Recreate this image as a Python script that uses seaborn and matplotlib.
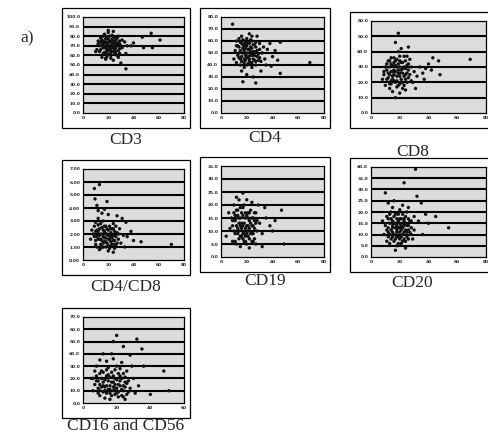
import matplotlib
matplotlib.use("Agg")
import matplotlib.pyplot as plt
import matplotlib.patches as mpatches
import numpy as np
import pandas as pd
import seaborn as sns

sns.set_theme(style="white")
plt.rcParams['font.family'] = ['DejaVu Sans']

# ---------------- data ----------------
cd3_points = [(14,78),(16,75),(18,80),(20,77),(22,74),(24,79),(26,76),(28,72),(15,70),(17,68),
              (19,72),(21,69),(23,71),(25,66),(27,73),(29,67),(13,64),(16,62),(19,65),(22,60),
              (25,63),(28,58),(30,70),(14,74),(17,82),(20,84),(23,81),(26,78),(29,75),(15,58),
              (18,56),(21,61),(24,55),(27,60),(16,68),(19,66),(22,63),(25,67),(12,72),(31,76),
              (33,74),(35,70),(11,66),(10,64),(34,62),(38,70),(40,73),(47,79),(48,68),(54,83),
              (55,68),(61,76),(34,46),(30,52),(20,86),(24,85),(18,57),(26,64),(22,70),(28,80)]
cd3_core = [(13,70),(15,76),(17,73),(19,78),(21,75),(23,77),(25,73),(27,70),(29,72),(14,66),
            (16,71),(18,69),(20,73),(22,67),(24,70),(26,68),(28,65),(17,63),(20,67),(23,64),
            (26,61),(19,59),(22,57),(16,80),(18,77),(21,80),(24,75),(27,78),(15,73),(20,70),
            (23,74),(25,70),(18,74),(21,65),(24,68),(19,62),(29,62),(31,68),(12,75),(26,72)]

cd4_points = [(12,60),(14,55),(16,58),(18,52),(20,56),(22,50),(24,54),(26,48),(28,52),(30,46),
              (13,48),(15,45),(17,50),(19,44),(21,47),(23,42),(25,45),(27,40),(14,62),(16,64),
              (18,60),(20,62),(22,58),(24,60),(26,57),(15,40),(18,38),(21,41),(24,38),(27,43),
              (11,52),(10,45),(12,42),(32,50),(34,45),(33,55),(36,53),(30,58),(9,74),(46,59),
              (69,42),(46,33),(17,26),(27,25),(39,39),(35,40),(40,47),(42,52),(31,35),(20,32),
              (25,30),(16,35),(28,64),(22,66),(38,58),(44,44),(19,48),(23,51),(17,54),(29,44)]
cd4_core = [(13,56),(15,52),(17,57),(19,54),(21,59),(23,55),(25,51),(27,55),(29,49),(14,50),
            (16,47),(18,45),(20,50),(22,45),(24,48),(26,44),(28,47),(15,59),(17,61),(19,58),
            (21,53),(23,61),(25,57),(18,42),(20,40),(22,43),(24,42),(26,51),(16,43),(20,46),
            (22,53),(18,56),(14,46),(24,64),(27,59),(30,53),(12,56),(31,43),(20,58),(23,48)]

cd8_points = [(10,30),(12,26),(14,32),(16,28),(18,24),(20,30),(22,26),(24,22),(26,28),(11,22),
              (13,19),(15,24),(17,20),(19,18),(21,22),(23,18),(25,20),(12,34),(14,36),(16,33),
              (18,35),(20,37),(22,33),(24,34),(9,27),(8,22),(27,25),(28,30),(30,27),(32,24),
              (19,40),(21,42),(17,46),(19,52),(26,43),(69,35),(47,34),(48,25),(37,22),(31,16),
              (17,10),(34,30),(36,26),(40,32),(43,36),(15,14),(20,13),(24,15),(13,16),(29,20),
              (22,29),(18,30),(16,21),(26,32),(20,26),(14,27),(38,29),(42,28),(10,18),(25,37)]
cd8_core = [(11,28),(13,30),(15,27),(17,31),(19,28),(21,33),(23,30),(25,26),(12,23),(14,21),
            (16,25),(18,21),(20,24),(22,20),(24,25),(26,23),(13,25),(15,31),(17,34),(19,32),
            (21,28),(23,24),(25,31),(14,19),(18,17),(20,19),(22,16),(16,36),(20,34),(23,37),
            (19,26),(21,20),(17,27),(15,22),(11,32),(27,35),(28,21),(24,29),(13,34),(9,25)]

cd4cd8_points = [(8,2.0),(10,1.5),(12,2.2),(14,1.2),(16,1.8),(18,1.0),(20,2.3),(22,1.4),(24,1.9),(26,1.1),
                 (28,1.6),(9,2.6),(11,1.0),(13,0.8),(15,2.5),(17,1.4),(19,2.0),(21,0.9),(23,2.4),(25,1.5),
                 (27,2.1),(10,2.9),(12,3.2),(14,2.8),(16,3.0),(18,2.6),(20,0.7),(22,1.8),(24,0.6),(30,1.3),
                 (32,1.9),(29,2.4),(6,1.6),(7,2.3),(9,5.5),(13,5.8),(9.5,4.7),(17,3.9),(27,3.4),(34,2.9),
                 (38,2.2),(46,1.4),(70,1.2),(35,1.8),(31,3.2),(11,4.2),(15,3.6),(20,3.5),(24,2.8),(13,1.6),
                 (18,1.7),(22,2.1),(16,1.3),(26,2.6),(19,4.5),(33,1.0),(40,1.5),(12,3.8),(25,1.2),(21,1.6)]
cd4cd8_core = [(9,1.8),(11,2.3),(13,1.9),(15,1.5),(17,2.2),(19,1.3),(21,1.9),(23,1.2),(25,2.2),(27,1.3),
               (10,1.2),(12,1.6),(14,2.0),(16,2.3),(18,2.0),(20,1.6),(22,2.4),(24,1.5),(26,1.8),(12,2.7),
               (14,1.6),(16,1.0),(18,1.4),(20,1.1),(22,1.1),(17,2.6),(19,2.4),(21,2.6),(23,1.7),(15,1.0),
               (11,1.8),(13,2.4),(25,0.9),(28,2.0),(10,2.2),(14,0.9),(17,1.7),(20,1.9),(24,2.4),(16,2.0)]

cd19_points = [(8,15),(10,10),(12,18),(14,7),(16,13),(18,9),(20,16),(22,11),(24,6),(26,14),
               (28,10),(9,6),(11,14),(13,11),(15,19),(17,16),(19,6),(21,12),(23,18),(25,9),
               (27,17),(10,20),(12,5),(14,15),(16,8),(18,20),(20,5),(22,14),(24,12),(26,7),
               (7,11),(6,17),(30,13),(32,9),(31,36),(17,24.6),(47,18),(49,5),(40,10),(32,4),
               (4,8),(14,22),(20,22),(24,21),(12,23),(35,15),(38,12),(29,20),(15,4),(22,3.5),
               (19,11),(13,9),(17,12),(25,15),(21,8),(11,16),(27,5),(34,19),(42,14),(9,12)]
cd19_core = [(9,14),(11,9),(13,16),(15,12),(17,7),(19,15),(21,17),(23,9),(25,12),(27,13),
             (10,17),(12,12),(14,10),(16,17),(18,13),(20,9),(22,7),(24,15),(26,11),(28,14),
             (11,6),(13,18),(15,8),(17,19),(19,17),(21,15),(23,13),(25,6),(12,15),(14,13),
             (16,11),(18,6),(20,12),(22,17),(24,9),(26,17),(15,15),(19,8),(21,10),(17,9)]

cd20_points = [(10,14),(12,9),(14,17),(16,7),(18,12),(20,15),(22,10),(24,18),(26,8),(28,13),
               (11,18),(13,6),(15,11),(17,19),(19,9),(21,6),(23,14),(25,11),(27,16),(12,13),
               (14,20),(16,15),(18,5),(20,11),(22,19),(24,7),(26,14),(9,10),(8,16),(30,12),
               (31,39),(23,33),(10,28.5),(32,27),(35,24),(54,13),(38,19),(24,4),(15,22),(20,21),
               (26,22),(12,24),(33,16),(36,10),(29,8),(17,3),(21,17),(19,13),(15,9),(23,8),
               (13,15),(25,20),(18,17),(28,10),(11,7),(40,15),(45,18),(16,25),(22,23),(30,18)]
cd20_core = [(11,12),(13,10),(15,14),(17,13),(19,16),(21,12),(23,17),(25,14),(27,11),(12,17),
             (14,12),(16,10),(18,14),(20,8),(22,13),(24,15),(26,12),(28,16),(13,19),(15,16),
             (17,8),(19,19),(21,14),(23,11),(25,9),(14,8),(16,18),(18,9),(20,17),(22,7),
             (24,12),(26,17),(12,11),(17,15),(20,13),(23,16),(19,6),(21,9),(15,13),(18,11)]

cd1656_points = [(6,10),(8,18),(10,6),(12,25),(14,14),(16,8),(18,22),(20,12),(22,28),(24,5),
                 (26,16),(7,26),(9,12),(11,20),(13,4),(15,29),(17,17),(19,7),(21,24),(23,11),
                 (25,21),(27,9),(8,30),(10,15),(12,9),(14,22),(16,3),(18,13),(20,30),(22,18),
                 (24,10),(26,26),(5,20),(6,20),(20,55),(32,52),(18,50),(35,44),(12,40),(48,26),
                 (51,10),(40,7),(28,39),(30,20),(33,14),(29,30),(14,34),(18,36),(23,33),(10,35),
                 (36,30),(25,3),(15,18),(19,27),(13,13),(21,5),(28,12),(31,8),(17,40),(24,46)]
cd1656_core = [(7,15),(9,8),(11,13),(13,19),(15,11),(17,25),(19,15),(21,9),(23,20),(25,13),
               (27,18),(8,22),(10,10),(12,17),(14,8),(16,21),(18,10),(20,19),(22,14),(24,24),
               (26,7),(9,18),(11,26),(13,10),(15,23),(17,6),(19,20),(21,15),(23,6),(25,17),
               (10,24),(12,14),(14,27),(16,14),(18,17),(20,8),(22,22),(24,14),(16,11),(19,12)]

cd3_yticks = [0, 10, 20, 30, 40, 50, 60, 70, 80, 90, 100]
cd4_yticks = [0, 10, 20, 30, 40, 50, 60, 70, 80]
cd8_yticks = [0, 10, 20, 30, 40, 50, 60]
cd4cd8_yticks = [0, 1, 2, 3, 4, 5, 6, 7]
cd19_yticks = [0, 5, 10, 15, 20, 25, 30, 35]
cd20_yticks = [0, 5, 10, 15, 20, 25, 30, 35, 40]
cd1656_yticks = [0, 10, 20, 30, 40, 50, 60, 70]
xticks_80 = [0, 20, 40, 60, 80]
xticks_60 = [0, 20, 40, 60]

# ---------------- layout ----------------
W, H = 488, 436
fig = plt.figure(figsize=(W / 100, H / 100), dpi=100)
fig.patch.set_facecolor("white")

panels = [
    ("CD3", cd3_points + cd3_core, cd3_yticks, "{:.1f}", xticks_80, (62, 8, 190, 128), 140),
    ("CD4", cd4_points + cd4_core, cd4_yticks, "{:.1f}", xticks_80, (200, 8, 330, 128), 138),
    ("CD8", cd8_points + cd8_core, cd8_yticks, "{:.1f}", xticks_80, (350, 12, 492, 128), 152),
    ("CD4/CD8", cd4cd8_points + cd4cd8_core, cd4cd8_yticks, "{:.2f}", xticks_80, (62, 160, 190, 275), 287),
    ("CD19", cd19_points + cd19_core, cd19_yticks, "{:.1f}", xticks_80, (200, 157, 330, 272), 281),
    ("CD20", cd20_points + cd20_core, cd20_yticks, "{:.1f}", xticks_80, (350, 158, 492, 272), 283),
    ("CD16 and CD56", cd1656_points + cd1656_core, cd1656_yticks, "{:.1f}", xticks_60, (62, 308, 190, 418), 426),
]


def fig_rect(l, t, r, b):
    return [l / W, 1 - b / H, (r - l) / W, (b - t) / H]


for name, pts, yt, fmt, xt, box, laby in panels:
    l, t, r, b = box
    rect = mpatches.Rectangle((l / W, 1 - b / H), (r - l) / W, (b - t) / H,
                              transform=fig.transFigure, fill=False,
                              edgecolor="black", linewidth=0.9)
    fig.patches.append(rect)
    ax = fig.add_axes(fig_rect(l + 21, t + 9, r - 6, b - 15))
    ax.set_facecolor("#dcdcdc")
    df = pd.DataFrame(pts, columns=["x", "y"])
    for yv in yt[1:-1]:
        ax.axhline(yv, color="black", linewidth=1.5, zorder=1)
    sns.scatterplot(data=df, x="x", y="y", ax=ax, color="#111111", s=6,
                    marker="o", edgecolor="none", zorder=3, legend=False)
    ax.set_xlim(xt[0], xt[-1])
    ax.set_ylim(yt[0], yt[-1])
    ax.set_xticks(xt)
    ax.set_xticklabels([str(v) for v in xt])
    ax.set_yticks(yt)
    ax.set_yticklabels([fmt.format(v) for v in yt])
    ax.tick_params(axis="both", labelsize=3.2, length=0, pad=2)
    for lab in ax.get_xticklabels() + ax.get_yticklabels():
        lab.set_fontweight("bold")
    ax.set_xlabel("")
    ax.set_ylabel("")
    for sp in ax.spines.values():
        sp.set_color("black")
        sp.set_linewidth(0.9)
    cx = (l + r) / 2 if r < 480 else (l + 475) / 2
    fig.text(cx / W, 1 - laby / H, name, ha="center", va="center",
             fontsize=12.5, family="Liberation Serif")

fig.text(27 / W, 1 - 38 / H, "a)", ha="center", va="center",
         fontsize=12.5, family="Liberation Serif")

fig.savefig("out.png", dpi=100)
